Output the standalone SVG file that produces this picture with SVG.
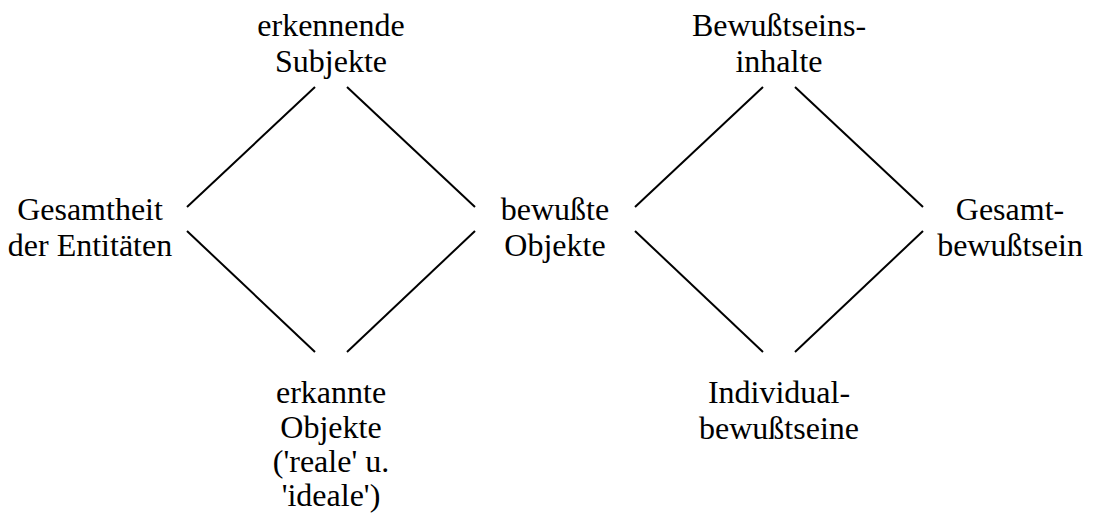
<svg xmlns="http://www.w3.org/2000/svg" width="1097" height="515" viewBox="0 0 1097 515">
<style>
line{stroke:#000;stroke-width:2}
</style>
<rect width="1097" height="515" fill="#fff"/>
<g id="connectors">
<line x1="315" y1="87" x2="187" y2="207"/>
<line x1="347" y1="87" x2="475" y2="207"/>
<line x1="187" y1="231" x2="315" y2="352"/>
<line x1="475" y1="231" x2="347" y2="352"/>
<line x1="763" y1="87" x2="635" y2="207"/>
<line x1="795" y1="87" x2="923" y2="207"/>
<line x1="635" y1="231" x2="763" y2="352"/>
<line x1="923" y1="231" x2="795" y2="352"/>
</g>
<g font-family="Liberation Serif, Times New Roman, DejaVu Serif, serif" font-size="32" fill="#000" text-anchor="middle">
<g id="erkennende-subjekte"><text x="331" y="36">erkennende</text><text x="331" y="72">Subjekte</text></g>
<g id="gesamtheit"><text x="90" y="220">Gesamtheit</text><text x="90" y="256">der Entitäten</text></g>
<g id="bewusste-objekte"><text x="555" y="220">bewußte</text><text x="555" y="256">Objekte</text></g>
<g id="erkannte-objekte"><text x="331" y="403">erkannte</text><text x="331" y="438">Objekte</text><text x="331" y="472">('reale' u.</text><text x="331" y="506">'ideale')</text></g>
<g id="bewusstseinsinhalte"><text x="779" y="36">Bewußtseins-</text><text x="779" y="72">inhalte</text></g>
<g id="gesamtbewusstsein"><text x="1010" y="220">Gesamt-</text><text x="1010" y="256">bewußtsein</text></g>
<g id="individualbewusstseine"><text x="779" y="403">Individual-</text><text x="779" y="439">bewußtseine</text></g>
</g>
</svg>
